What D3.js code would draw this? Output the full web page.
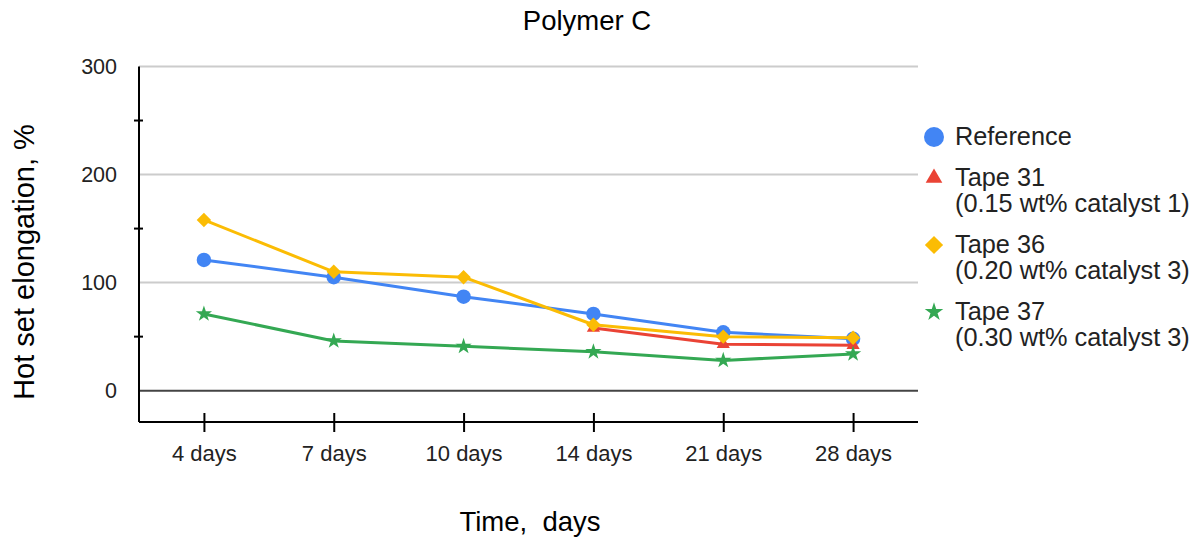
<!DOCTYPE html>
<html>
<head>
<meta charset="utf-8">
<script src="https://cdn.jsdelivr.net/npm/d3@7"></script>
<style>
  html, body { margin: 0; padding: 0; background: #fff; }
  svg { display: block; font-family: "Liberation Sans", Arial, sans-serif; }
</style>
</head>
<body>
<svg id="chart" width="1203" height="537"></svg>
<script>
// Hot set elongation measured over curing time
const categories = ["4 days", "7 days", "10 days", "14 days", "21 days", "28 days"];
const reference = [121, 105, 87, 71, 54, 48];
const tape31 = [null, null, null, 58, 43, 42];
const tape36 = [158, 110, 105, 61, 50, 49];
const tape37 = [71, 46, 41, 36, 28, 34];

const seriesNames = ["Reference", "Tape 31", "Tape 36", "Tape 37"];
const seriesNotes = ["", "(0.15 wt% catalyst 1)", "(0.20 wt% catalyst 3)", "(0.30 wt% catalyst 3)"];
const yMajorTicks = [0, 100, 200, 300];
const yMinorTicks = [50, 150, 250];

const colors = ["#4285F4", "#EA4335", "#FBBC04", "#34A853"];
const shapes = ["circle", "triangle", "diamond", "star"];
const seriesValues = [reference, tape31, tape36, tape37];

const svg = d3.select("#chart");

const plotLeft = 139, plotRight = 918, plotTop = 66.5, plotBottom = 422;

const x = d3.scalePoint().domain(categories).range([plotLeft, plotRight]).padding(0.5);
const y = d3.scaleLinear().domain([-29, 300]).range([plotBottom, plotTop]);

function symbolPath(shape, scale) {
  const s = scale || 1;
  switch (shape) {
    case "circle": return d3.symbol(d3.symbolCircle, 165 * s)();
    case "triangle": return d3.symbol(d3.symbolTriangle, 75 * s)();
    case "diamond": return d3.symbol(d3.symbolSquare, 104 * s)();
    case "star": return d3.symbol(d3.symbolStar, 82 * s)();
  }
}
const rot = shape => shape === "diamond" ? " rotate(45)" : "";

// Gridlines
svg.append("g").selectAll("line")
  .data(yMajorTicks.filter(d => d !== 0))
  .join("line")
  .attr("x1", plotLeft).attr("x2", plotRight)
  .attr("y1", d => y(d)).attr("y2", d => y(d))
  .attr("stroke", "#cccccc").attr("stroke-width", 2);

// Zero baseline
svg.append("line")
  .attr("x1", plotLeft).attr("x2", plotRight)
  .attr("y1", y(0)).attr("y2", y(0))
  .attr("stroke", "#444").attr("stroke-width", 2);

// Y axis line with minor ticks
svg.append("line")
  .attr("x1", plotLeft).attr("x2", plotLeft)
  .attr("y1", plotTop).attr("y2", plotBottom)
  .attr("stroke", "#000").attr("stroke-width", 2);
svg.append("g").selectAll("line")
  .data(yMinorTicks)
  .join("line")
  .attr("x1", plotLeft - 5).attr("x2", plotLeft + 4)
  .attr("y1", d => y(d)).attr("y2", d => y(d))
  .attr("stroke", "#000").attr("stroke-width", 2);

// Y tick labels
svg.append("g").selectAll("text")
  .data(yMajorTicks)
  .join("text")
  .attr("x", 117).attr("y", d => y(d))
  .attr("dy", "0.36em")
  .attr("text-anchor", "end")
  .attr("font-size", 21.5)
  .attr("fill", "#222")
  .text(d => d);

// X axis
const xAxis = svg.append("g").attr("transform", `translate(0,${plotBottom})`)
  .call(d3.axisBottom(x).tickSizeInner(10).tickSizeOuter(0).tickPadding(20));
xAxis.select(".domain").attr("stroke", "#000").attr("stroke-width", 2)
  .attr("d", `M${plotLeft},0H${plotRight}`);
xAxis.selectAll(".tick line").attr("stroke", "#000").attr("stroke-width", 2)
  .attr("y1", -9).attr("y2", 10);
xAxis.selectAll(".tick text")
  .attr("font-size", 22).attr("fill", "#222")
  .attr("font-family", "Liberation Sans, Arial, sans-serif")
  .attr("y", 38.5).attr("dy", 0);

// Series lines and markers
const line = d3.line()
  .defined(d => d.v !== null)
  .x(d => x(d.c)).y(d => y(d.v));

seriesValues.forEach((vals, i) => {
  const pts = vals.map((v, j) => ({ c: categories[j], v }));
  svg.append("path")
    .datum(pts)
    .attr("fill", "none")
    .attr("stroke", colors[i])
    .attr("stroke-width", 3)
    .attr("stroke-linejoin", "round")
    .attr("d", line);
  svg.append("g").selectAll("path")
    .data(pts.filter(d => d.v !== null))
    .join("path")
    .attr("transform", d => `translate(${x(d.c)},${y(d.v)})${rot(shapes[i])}`)
    .attr("d", symbolPath(shapes[i]))
    .attr("fill", colors[i]);
});

// Title
svg.append("text")
  .attr("x", 587).attr("y", 30)
  .attr("text-anchor", "middle")
  .attr("font-size", 27.5).attr("fill", "#000")
  .text("Polymer C");

// Axis titles
svg.append("text")
  .attr("x", 530).attr("y", 531)
  .attr("text-anchor", "middle")
  .attr("font-size", 27.5).attr("fill", "#000")
  .style("white-space", "pre")
  .text("Time,  days");

svg.append("text")
  .attr("transform", "translate(34,262) rotate(-90)")
  .attr("text-anchor", "middle")
  .attr("font-size", 29).attr("fill", "#000")
  .text("Hot set elongation, %");

// Legend
const legendRows = [145, 186, 253, 320];
const legend = svg.append("g");
seriesNames.forEach((name, i) => {
  const by = legendRows[i];
  legend.append("path")
    .attr("transform", `translate(934,${by - 8})${rot(shapes[i])}`)
    .attr("d", symbolPath(shapes[i], i === 0 ? 1.9 : (i === 3 ? 1.3 : 1.6)))
    .attr("fill", colors[i]);
  const t = legend.append("text")
    .attr("x", 955).attr("y", by)
    .attr("font-size", 25.3).attr("fill", "#222");
  t.append("tspan").attr("x", 955).text(name);
  if (seriesNotes[i]) {
    t.append("tspan").attr("x", 955).attr("dy", 25.5).text(seriesNotes[i]);
  }
});
</script>
</body>
</html>
